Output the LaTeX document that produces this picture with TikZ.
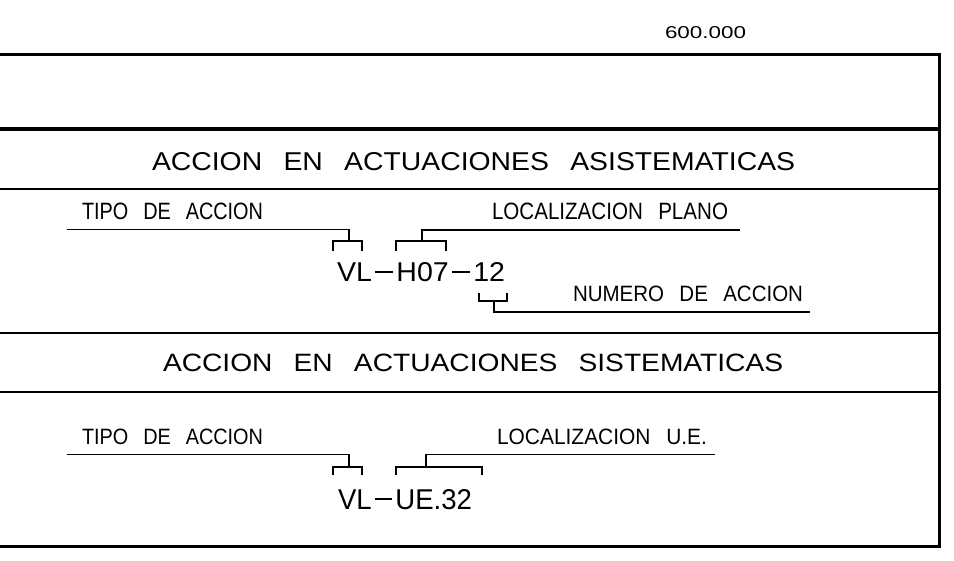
\documentclass[tikz,border=0pt]{standalone}
\usepackage{graphicx}
\usepackage{fontspec}
\setmainfont{Liberation Sans}
\newcommand\fitbox[3]{\resizebox{#1pt}{#2pt}{#3}}
\newcommand\gap{\hspace{0.75em}}
\newcommand\cdash{\kern0.12em\rule[0.325em]{0.62em}{0.07em}\kern0.12em}
\begin{document}
\begin{tikzpicture}[x=1pt,y=-1pt,
  frameln/.style={line width=3.6pt},
  rowln/.style={line width=1.3pt},
  leader/.style={line width=1.1pt},
  lbl/.style={inner sep=0pt, outer sep=0pt, anchor=south west}]
\useasboundingbox (0,0) rectangle (954,561);
% frame
\draw[frameln] (0,54.5) -- (939.5,54.5) -- (939.5,546.5) -- (0,546.5);
\draw[frameln] (0,129) -- (939.5,129);
\draw[rowln] (0,189) -- (939.5,189);
\draw[rowln] (0,333) -- (939.5,333);
\draw[rowln] (0,392) -- (939.5,392);
% texts
\node[lbl] (scale) at (665,39) {\fitbox{81}{12}{600.000}};
\node[lbl] (tA) at (152,171) {\fitbox{643}{18}{ACCION\gap EN\gap ACTUACIONES\gap ASISTEMATICAS}};
\node[lbl] (tipoA) at (82,220) {\fitbox{181}{16.5}{TIPO\gap DE\gap ACCION}};
\node[lbl] (locA) at (492,220) {\fitbox{236}{16.5}{LOCALIZACION\gap PLANO}};
\node[lbl] (codeA) at (337,282) {\fitbox{168}{19}{VL\cdash H07\cdash 12}};
\node[lbl] (numA) at (573,302) {\fitbox{230}{15.5}{NUMERO\gap DE\gap ACCION}};
\node[lbl] (tB) at (163,372) {\fitbox{620}{17.5}{ACCION\gap EN\gap ACTUACIONES\gap SISTEMATICAS}};
\node[lbl] (tipoB) at (82,445) {\fitbox{181}{15.5}{TIPO\gap DE\gap ACCION}};
\node[lbl] (locB) at (497,445) {\fitbox{210}{15.5}{LOCALIZACION\gap U.E.}};
\node[lbl] (codeB) at (338,510) {\fitbox{134}{20}{VL\cdash UE.32}};
% leaders, section A
\draw[leader] (67,229.5) -- (349,229.5) -- (349,241);
\draw[leader] (333,251) -- (333,241) -- (362,241) -- (362,251);
\draw[leader] (740,230) -- (422,230) -- (422,241);
\draw[leader] (396,251) -- (396,241) -- (446,241) -- (446,251);
\draw[leader] (479,293) -- (479,301) -- (507,301) -- (507,293);
\draw[leader] (494,301) -- (494,312) -- (810,312);
% leaders, section B
\draw[leader] (67,454.5) -- (349,454.5) -- (349,467);
\draw[leader] (333,475) -- (333,467) -- (362,467) -- (362,475);
\draw[leader] (715,454.5) -- (426,454.5) -- (426,467);
\draw[leader] (396,475) -- (396,467) -- (482,467) -- (482,475);
\end{tikzpicture}
\end{document}
